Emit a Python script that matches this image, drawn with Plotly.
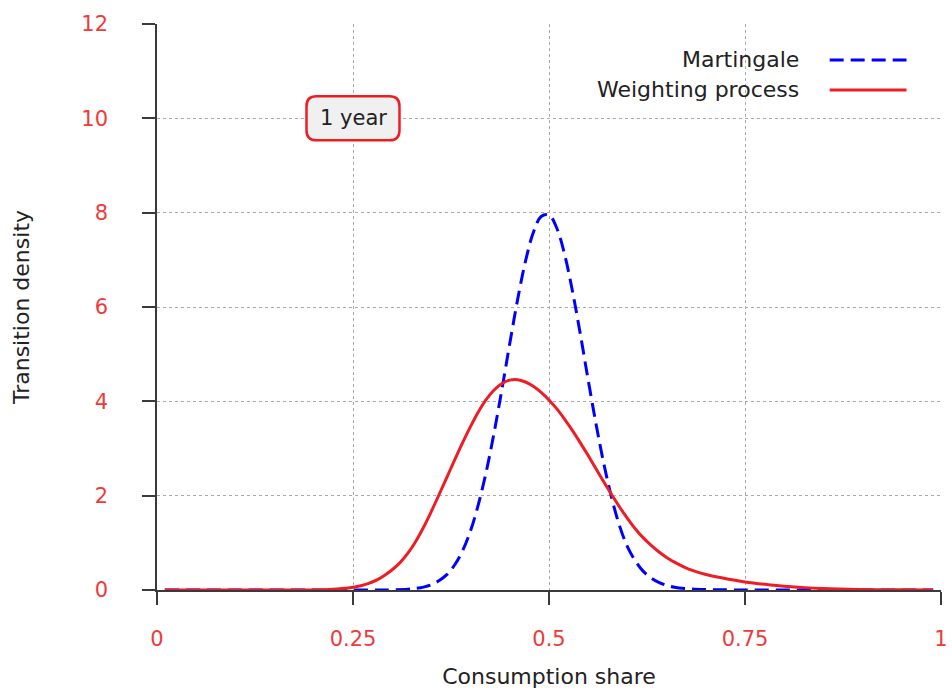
import plotly.graph_objects as go

# ---- data ----
x_weight = [0.01, 0.10, 0.18, 0.22, 0.23, 0.24, 0.25, 0.26, 0.27, 0.28, 0.29, 0.30,
            0.31, 0.32, 0.33, 0.34, 0.35, 0.36, 0.37, 0.38, 0.39, 0.40, 0.41, 0.42,
            0.43, 0.44, 0.45, 0.46, 0.47, 0.48, 0.49, 0.50, 0.51, 0.52, 0.53, 0.54,
            0.55, 0.56, 0.57, 0.58, 0.59, 0.60, 0.61, 0.62, 0.63, 0.64, 0.65, 0.66,
            0.68, 0.70, 0.72, 0.75, 0.78, 0.80, 0.85, 0.90, 0.95, 0.99]
weighting = [0.0, 0.0, 0.0, 0.01, 0.02, 0.035, 0.06, 0.09, 0.14, 0.21, 0.31, 0.43,
             0.58, 0.78, 1.03, 1.33, 1.67, 2.03, 2.40, 2.77, 3.13, 3.47, 3.78, 4.04,
             4.24, 4.38, 4.45, 4.46, 4.41, 4.32, 4.19, 4.03, 3.84, 3.62, 3.38, 3.12,
             2.85, 2.57, 2.29, 2.02, 1.76, 1.52, 1.30, 1.11, 0.95, 0.81, 0.69, 0.59,
             0.43, 0.33, 0.26, 0.17, 0.11, 0.08, 0.03, 0.01, 0.003, 0.0]

x_mart = [0.01, 0.10, 0.20, 0.28, 0.30, 0.32, 0.33, 0.34, 0.35, 0.36, 0.37, 0.38,
          0.39, 0.40, 0.41, 0.42, 0.43, 0.44, 0.45, 0.46, 0.47, 0.48, 0.49, 0.50,
          0.51, 0.52, 0.53, 0.54, 0.55, 0.56, 0.57, 0.58, 0.59, 0.60, 0.61, 0.62,
          0.63, 0.64, 0.65, 0.66, 0.68, 0.70, 0.75, 0.85, 0.99]
martingale = [0.0, 0.0, 0.0, 0.0, 0.004, 0.016, 0.032, 0.061, 0.11, 0.20, 0.33, 0.54,
              0.84, 1.26, 1.82, 2.51, 3.34, 4.26, 5.23, 6.16, 6.97, 7.58, 7.92, 7.95,
              7.67, 7.11, 6.33, 5.42, 4.45, 3.52, 2.67, 1.95, 1.36, 0.92, 0.62, 0.40,
              0.26, 0.16, 0.10, 0.06, 0.025, 0.01, 0.0, 0.0, 0.0]

x_ticks = [0, 0.25, 0.5, 0.75, 1]
x_tick_text = ["0", "0.25", "0.5", "0.75", "1"]
y_ticks = [0, 2, 4, 6, 8, 10, 12]
y_tick_text = ["0", "2", "4", "6", "8", "10", "12"]

series_names = ["Martingale", "Weighting process"]
label_text = "1 year"
label_pos = (0.25, 10.0)

# ---- styles ----
BLUE = "#0000ff"
RED = "#ee1d25"
TICK_RED = "#f03a3a"
AXIS = "#3a3a3a"
GRID = "#aaaaaa"
FONT = "DejaVu Sans"
TXT = "#222222"

fig = go.Figure()
fig.add_trace(go.Scatter(x=x_mart, y=martingale, mode="lines", name=series_names[0],
                         line=dict(color=BLUE, width=3, dash="14px,7px", shape="spline", smoothing=1.0),
                         showlegend=False))
fig.add_trace(go.Scatter(x=x_weight, y=weighting, mode="lines", name=series_names[1],
                         line=dict(color=RED, width=3, shape="spline", smoothing=1.0),
                         showlegend=False))

# manual legend (text right, line sample on the right)
leg_y = [0.9365, 0.8835]
for name, col, dash, yy in [(series_names[0], BLUE, "14px,7px", leg_y[0]),
                            (series_names[1], RED, "solid", leg_y[1])]:
    fig.add_annotation(xref="paper", yref="paper", x=0.8215, y=yy, text=name,
                       showarrow=False, xanchor="right", yanchor="middle",
                       font=dict(family=FONT, size=22, color=TXT))
    fig.add_shape(type="line", xref="paper", yref="paper", x0=0.858, x1=0.956,
                  y0=yy, y1=yy, line=dict(color=col, width=3, dash=dash))

# "1 year" rounded box
cx, cy = label_pos
hw, hh = 0.0593, 0.466
rx, ry = 0.0128, 0.21
x0, x1, y0, y1 = cx - hw, cx + hw, cy - hh, cy + hh
path = (f"M {x0+rx},{y0} L {x1-rx},{y0} Q {x1},{y0} {x1},{y0+ry} "
        f"L {x1},{y1-ry} Q {x1},{y1} {x1-rx},{y1} L {x0+rx},{y1} "
        f"Q {x0},{y1} {x0},{y1-ry} L {x0},{y0+ry} Q {x0},{y0} {x0+rx},{y0} Z")
fig.add_shape(type="path", path=path, xref="x", yref="y",
              line=dict(color=RED, width=2.5), fillcolor="#f0f0f0", layer="above")
fig.add_annotation(x=cx, y=cy, text=label_text, showarrow=False, xref="x", yref="y",
                   font=dict(family=FONT, size=21, color=TXT))

fig.update_layout(
    width=952, height=689,
    margin=dict(l=157, r=11, t=24, b=99, autoexpand=False),
    plot_bgcolor="white", paper_bgcolor="white",
    font=dict(family=FONT, size=21, color=TXT),
)
fig.update_xaxes(range=[0, 1], tickvals=x_ticks, ticktext=x_tick_text,
                 showline=True, linecolor=AXIS, linewidth=1.5,
                 ticks="outside", ticklen=13, tickwidth=1.5, tickcolor=AXIS,
                 tickfont=dict(family=FONT, size=21, color=TICK_RED),
                 ticklabelstandoff=16,
                 showgrid=True, gridcolor=GRID, griddash="dot", gridwidth=1,
                 zeroline=False, automargin=False,
                 title=dict(text="Consumption share", standoff=20,
                            font=dict(family=FONT, size=22, color=TXT)))
fig.update_yaxes(range=[0, 12], tickvals=y_ticks, ticktext=y_tick_text,
                 showline=True, linecolor=AXIS, linewidth=1.5,
                 ticks="outside", ticklen=13, tickwidth=1.5, tickcolor=AXIS,
                 tickfont=dict(family=FONT, size=21, color=TICK_RED),
                 ticklabelstandoff=30,
                 showgrid=True, gridcolor=GRID, griddash="dot", gridwidth=1,
                 zeroline=False, automargin=False,
                 title=dict(text="Transition density", standoff=46,
                            font=dict(family=FONT, size=22, color=TXT)))

fig.write_html("out.html")
